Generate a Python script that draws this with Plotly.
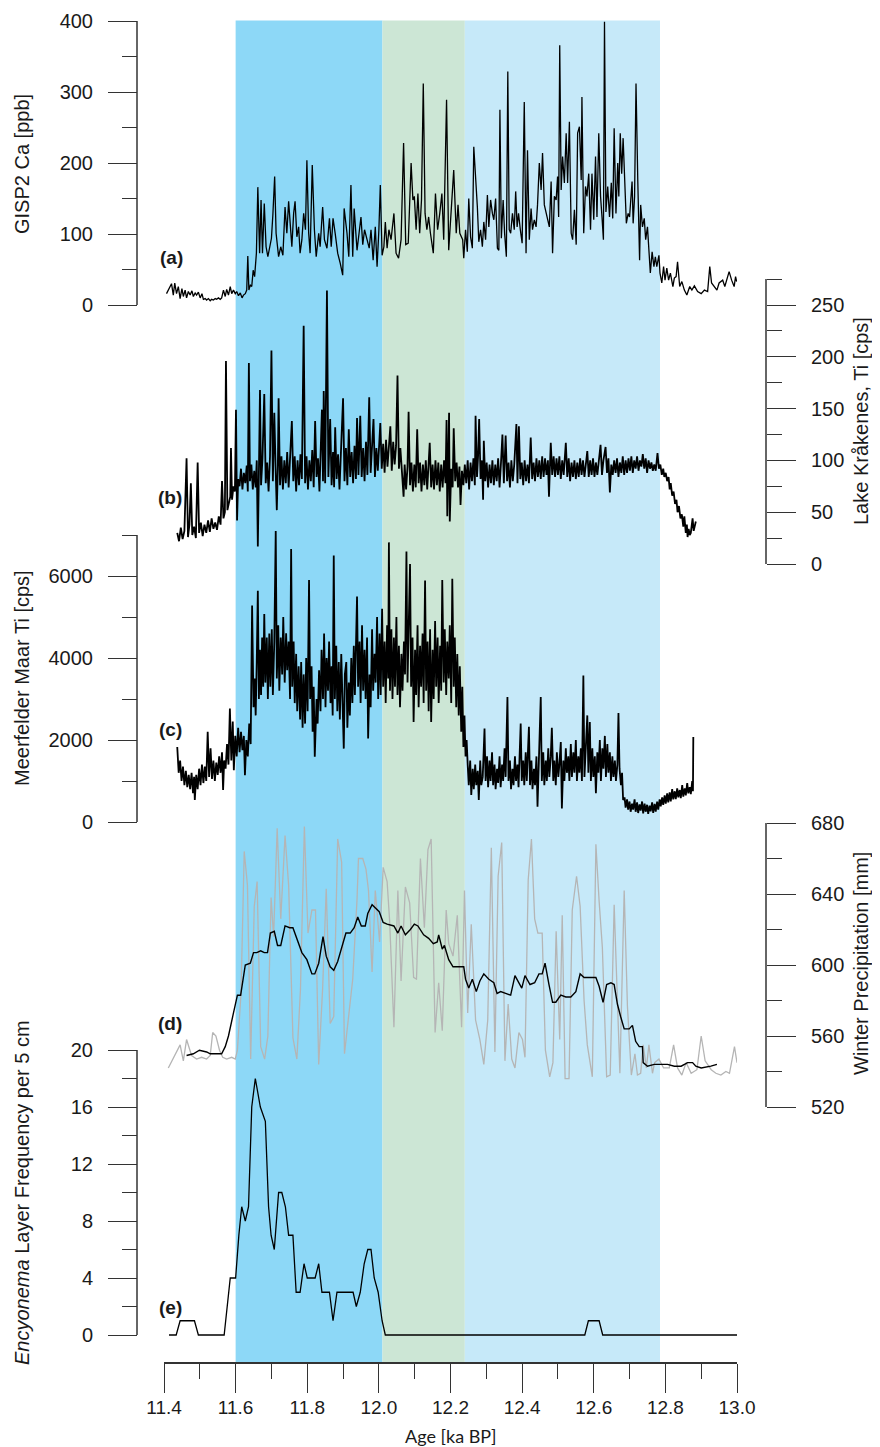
import plotly.graph_objects as go

# ---------------- DATA ----------------
AGE_TICKS = [11.4, 11.6, 11.8, 12.0, 12.2, 12.4, 12.6, 12.8, 13.0]
AGE_TICK_LABELS = ["11.4", "11.6", "11.8", "12.0", "12.2", "12.4", "12.6", "12.8", "13.0"]
AGE_MINOR = [11.5, 11.7, 11.9, 12.1, 12.3, 12.5, 12.7, 12.9]

# shaded intervals (ka BP) and their colours
ZONE_START = [11.6, 12.01, 12.24]
ZONE_END = [12.01, 12.24, 12.785]
ZONE_COLOR = ["#8dd8f7", "#cce6d5", "#c6e9f9"]

# (a) GISP2 Ca [ppb]  (age, value)
gisp2_ca = [
(11.407,16),(11.412,21),(11.421,30),(11.426,14),(11.430,31),(11.435,16),(11.440,26),(11.445,9),(11.450,23),(11.454,12),
(11.459,21),(11.463,10),(11.468,19),(11.473,14),(11.478,20),(11.482,12),(11.487,17),(11.491,14),(11.496,18),(11.501,10),
(11.506,16),(11.510,8),(11.515,9),(11.519,7),(11.524,9),(11.529,6),(11.533,8),(11.538,7),(11.543,9),(11.547,8),
(11.552,10),(11.557,8),(11.561,10),(11.566,21),(11.571,12),(11.575,22),(11.580,14),(11.585,26),(11.589,16),(11.594,21),
(11.599,16),(11.603,19),(11.608,13),(11.613,17),(11.618,10),(11.622,14),(11.627,16),(11.631,21),(11.634,69),(11.637,21),
(11.641,28),(11.645,26),(11.649,49),(11.653,40),(11.658,73),(11.662,166),(11.667,73),(11.671,148),(11.675,73),(11.680,143),
(11.685,82),(11.690,68),(11.697,89),(11.700,94),(11.704,127),(11.709,181),(11.713,101),(11.717,82),(11.720,68),(11.726,82),
(11.732,70),(11.738,138),(11.743,101),(11.748,146),(11.752,110),(11.757,82),(11.762,129),(11.766,146),(11.771,96),(11.776,110),
(11.780,73),(11.785,92),(11.790,129),(11.795,106),(11.799,204),(11.804,101),(11.808,73),(11.814,197),(11.820,106),(11.825,68),
(11.832,101),(11.836,82),(11.843,138),(11.848,92),(11.855,80),(11.862,122),(11.867,82),(11.872,122),(11.878,101),(11.885,73),
(11.892,59),(11.899,42),(11.903,136),(11.911,101),(11.916,68),(11.922,169),(11.927,68),(11.931,136),(11.939,77),(11.945,99),
(11.950,124),(11.955,85),(11.960,106),(11.967,92),(11.973,80),(11.978,106),(11.984,63),(11.990,110),(11.995,54),(12.000,106),
(12.004,169),(12.009,70),(12.014,82),(12.018,117),(12.023,80),(12.028,106),(12.034,92),(12.042,129),(12.048,73),(12.055,66),
(12.062,92),(12.069,228),(12.075,85),(12.082,87),(12.090,200),(12.095,148),(12.099,153),(12.104,106),(12.109,157),(12.114,101),
(12.119,148),(12.124,312),(12.129,129),(12.134,106),(12.139,124),(12.144,101),(12.152,73),(12.158,157),(12.164,106),(12.170,129),
(12.176,157),(12.181,92),(12.189,289),(12.195,77),(12.202,138),(12.209,190),(12.216,101),(12.221,141),(12.226,101),(12.234,92),
(12.237,66),(12.242,106),(12.247,75),(12.251,150),(12.256,96),(12.261,80),(12.265,223),(12.270,185),(12.275,138),(12.279,89),
(12.284,106),(12.289,82),(12.293,117),(12.298,92),(12.303,155),(12.307,110),(12.312,148),(12.317,129),(12.321,120),(12.326,150),
(12.331,80),(12.335,77),(12.338,275),(12.342,94),(12.347,148),(12.351,101),(12.356,68),(12.360,329),(12.364,106),(12.368,101),
(12.373,129),(12.378,106),(12.382,160),(12.386,110),(12.390,129),(12.395,106),(12.400,87),(12.406,286),(12.411,73),(12.415,218),
(12.420,92),(12.425,136),(12.429,106),(12.434,120),(12.439,110),(12.443,141),(12.448,200),(12.453,162),(12.457,214),(12.462,141),
(12.467,129),(12.471,124),(12.476,110),(12.481,174),(12.485,73),(12.490,153),(12.495,148),(12.499,181),(12.502,124),(12.505,366),
(12.509,162),(12.513,209),(12.518,172),(12.523,242),(12.527,172),(12.532,258),(12.537,101),(12.541,92),(12.546,134),(12.551,85),
(12.555,242),(12.560,251),(12.565,176),(12.567,293),(12.572,101),(12.577,167),(12.581,153),(12.586,185),(12.591,106),(12.595,185),
(12.600,120),(12.605,209),(12.609,124),(12.614,242),(12.619,153),(12.623,124),(12.627,92),(12.630,399),(12.634,131),(12.639,167),
(12.644,124),(12.649,172),(12.653,122),(12.657,249),(12.662,129),(12.667,200),(12.670,153),(12.674,242),(12.678,185),(12.682,235),
(12.687,157),(12.691,115),(12.696,129),(12.700,124),(12.707,174),(12.710,115),(12.714,153),(12.718,312),(12.723,174),(12.728,63),
(12.731,141),(12.736,110),(12.741,122),(12.745,92),(12.750,110),(12.754,73),(12.758,45),(12.763,75),(12.768,54),(12.772,68),
(12.776,54),(12.782,70),(12.785,45),(12.790,31),(12.795,54),(12.799,35),(12.804,52),(12.809,35),(12.814,45),(12.821,26),
(12.825,38),(12.830,40),(12.834,61),(12.840,26),(12.846,33),(12.853,21),(12.860,14),(12.868,26),(12.874,21),(12.881,27),
(12.890,19),(12.900,16),(12.909,21),(12.918,19),(12.924,54),(12.929,31),(12.936,26),(12.944,21),(12.950,31),(12.960,35),
(12.966,26),(12.972,38),(12.978,47),(12.985,35),(12.992,26),(12.996,40),(12.999,33),
]

# (b) Lake Kråkenes Ti [cps]  (age, value)
krakenes_ti = [
(11.437,30),(11.442,22),(11.447,35),(11.452,24),(11.457,32),(11.463,102),(11.467,26),(11.471,38),(11.475,78),(11.479,28),
(11.484,36),(11.489,25),(11.494,98),(11.498,30),(11.503,40),(11.508,27),(11.513,38),(11.518,30),(11.523,42),(11.528,31),
(11.533,44),(11.538,34),(11.543,40),(11.548,33),(11.553,46),(11.558,38),(11.562,80),(11.566,44),(11.570,50),(11.573,196),
(11.577,52),(11.581,58),(11.585,65),(11.587,112),(11.590,62),(11.594,75),(11.598,70),(11.601,149),(11.604,42),(11.607,82),
(11.611,75),(11.615,92),(11.619,72),(11.623,88),(11.627,78),(11.631,95),(11.634,70),(11.637,194),(11.640,80),(11.644,96),
(11.648,72),(11.652,90),(11.656,74),(11.659,100),(11.662,17),(11.665,88),(11.668,168),(11.671,76),(11.675,102),(11.680,164),
(11.684,78),(11.688,98),(11.692,70),(11.696,104),(11.700,206),(11.704,80),(11.708,146),(11.712,88),(11.715,52),(11.718,95),
(11.720,160),(11.724,76),(11.728,104),(11.732,72),(11.736,100),(11.740,78),(11.744,108),(11.748,74),(11.752,98),(11.757,138),
(11.761,80),(11.765,104),(11.769,70),(11.773,100),(11.777,76),(11.781,106),(11.785,82),(11.790,230),(11.794,78),(11.798,104),
(11.802,72),(11.806,100),(11.810,80),(11.814,110),(11.818,74),(11.822,138),(11.826,84),(11.830,102),(11.834,70),(11.838,106),
(11.841,149),(11.844,80),(11.846,167),(11.850,78),(11.855,264),(11.859,84),(11.864,140),(11.868,76),(11.872,108),(11.875,74),
(11.878,132),(11.882,82),(11.886,106),(11.890,72),(11.894,110),(11.900,160),(11.904,80),(11.908,112),(11.912,76),(11.916,130),
(11.920,84),(11.924,108),(11.928,78),(11.932,114),(11.936,82),(11.939,141),(11.943,86),(11.948,143),(11.952,84),(11.956,112),
(11.960,80),(11.964,118),(11.968,86),(11.973,161),(11.977,88),(11.981,116),(11.985,140),(11.989,84),(11.993,112),(11.997,90),
(12.001,118),(12.004,136),(12.008,92),(12.012,116),(12.016,88),(12.020,120),(12.024,94),(12.028,112),(12.032,133),(12.036,90),
(12.040,118),(12.044,96),(12.048,114),(12.052,182),(12.056,92),(12.060,112),(12.064,90),(12.067,74),(12.069,65),(12.072,96),
(12.076,72),(12.080,94),(12.083,147),(12.087,76),(12.091,98),(12.095,70),(12.099,96),(12.103,74),(12.107,130),(12.111,78),
(12.115,98),(12.119,70),(12.123,96),(12.127,76),(12.131,100),(12.135,72),(12.139,98),(12.142,117),(12.146,74),(12.150,96),
(12.154,72),(12.158,100),(12.162,76),(12.166,98),(12.170,70),(12.174,96),(12.178,74),(12.182,100),(12.186,78),(12.189,139),
(12.191,46),(12.194,96),(12.196,146),(12.198,41),(12.202,92),(12.206,74),(12.209,131),(12.213,80),(12.217,98),(12.221,74),
(12.225,94),(12.228,57),(12.232,90),(12.236,76),(12.240,96),(12.244,78),(12.248,100),(12.252,72),(12.256,98),(12.260,80),
(12.264,102),(12.268,76),(12.270,143),(12.274,84),(12.277,104),(12.280,140),(12.284,82),(12.288,100),(12.291,62),(12.293,119),
(12.297,80),(12.301,98),(12.305,74),(12.309,96),(12.313,78),(12.317,100),(12.321,76),(12.325,96),(12.329,80),(12.333,102),
(12.337,74),(12.341,98),(12.345,125),(12.349,78),(12.354,124),(12.358,80),(12.362,98),(12.366,74),(12.370,100),(12.374,80),
(12.378,96),(12.384,135),(12.387,78),(12.391,133),(12.395,82),(12.399,98),(12.403,76),(12.407,100),(12.411,80),(12.415,96),
(12.419,78),(12.424,122),(12.428,82),(12.432,98),(12.436,80),(12.440,102),(12.444,84),(12.448,100),(12.452,82),(12.456,104),
(12.460,84),(12.464,102),(12.468,86),(12.472,100),(12.475,65),(12.478,98),(12.480,117),(12.484,86),(12.488,104),(12.492,84),
(12.496,102),(12.500,86),(12.504,104),(12.508,82),(12.512,100),(12.516,86),(12.522,117),(12.526,84),(12.530,102),(12.534,80),
(12.538,98),(12.542,84),(12.546,100),(12.550,82),(12.554,98),(12.558,84),(12.562,102),(12.566,86),(12.570,100),(12.574,84),
(12.578,98),(12.582,109),(12.586,84),(12.590,100),(12.594,86),(12.598,102),(12.602,84),(12.606,98),(12.610,86),(12.614,102),
(12.619,115),(12.623,86),(12.627,100),(12.633,113),(12.637,88),(12.641,102),(12.645,69),(12.649,96),(12.653,86),(12.657,100),
(12.661,88),(12.665,102),(12.669,84),(12.673,98),(12.677,88),(12.681,104),(12.685,86),(12.689,100),(12.693,88),(12.697,102),
(12.701,90),(12.705,104),(12.709,88),(12.713,100),(12.717,92),(12.721,104),(12.725,90),(12.729,100),(12.733,94),(12.737,106),
(12.741,92),(12.745,102),(12.749,88),(12.753,100),(12.757,92),(12.761,98),(12.765,90),(12.769,96),(12.773,90),(12.778,107),
(12.782,92),(12.786,96),(12.790,86),(12.794,92),(12.797,84),(12.801,88),(12.805,80),(12.809,84),(12.812,72),(12.815,78),
(12.819,66),(12.823,70),(12.827,58),(12.831,62),(12.834,50),(12.838,56),(12.842,44),(12.846,48),(12.850,36),(12.853,46),
(12.857,30),(12.860,38),(12.862,26),(12.865,34),(12.868,28),(12.871,30),(12.874,38),(12.876,44),(12.879,32),(12.882,36),
(12.885,41),
]

# (c) Meerfelder Maar Ti [cps]  (age, value)
meerfelder_ti = [
(11.437,1830),(11.441,1200),(11.445,1500),(11.449,1000),(11.453,1350),(11.457,900),(11.461,1250),(11.465,850),(11.469,1150),(11.473,800),
(11.477,1200),(11.481,700),(11.484,1100),(11.486,535),(11.490,1150),(11.494,800),(11.498,1300),(11.502,900),(11.506,1400),(11.510,950),
(11.514,1350),(11.518,1000),(11.522,2200),(11.526,1100),(11.530,1800),(11.534,1050),(11.538,1500),(11.542,1000),(11.546,1450),(11.550,1150),
(11.554,1600),(11.558,1200),(11.562,1700),(11.565,780),(11.568,1500),(11.572,1300),(11.576,1900),(11.580,1400),(11.584,2765),(11.588,1500),
(11.592,2450),(11.595,1265),(11.599,2100),(11.603,1600),(11.607,2300),(11.611,1700),(11.615,2200),(11.619,1750),(11.623,2100),(11.626,1143),
(11.630,2000),(11.634,1600),(11.638,2400),(11.642,1900),(11.646,5280),(11.650,2800),(11.653,3500),(11.656,2600),(11.659,3900),(11.662,5640),
(11.665,3000),(11.668,4200),(11.671,3100),(11.674,4500),(11.677,3300),(11.680,5075),(11.683,3400),(11.687,4500),(11.690,3000),(11.694,4600),
(11.697,3300),(11.701,4700),(11.704,3100),(11.708,4400),(11.712,7100),(11.715,3500),(11.719,4800),(11.722,3200),(11.726,4500),(11.730,3600),
(11.733,5000),(11.737,3400),(11.741,4600),(11.744,3700),(11.748,4400),(11.752,3000),(11.755,6660),(11.758,3300),(11.762,4400),(11.765,2900),
(11.769,4100),(11.772,2700),(11.776,3800),(11.780,2500),(11.783,3900),(11.787,2300),(11.790,3600),(11.794,2400),(11.797,4000),(11.801,2700),
(11.805,5900),(11.808,3000),(11.812,3800),(11.815,2200),(11.818,3300),(11.821,1590),(11.826,3000),(11.829,2400),(11.833,3700),(11.837,2700),
(11.840,4200),(11.844,3000),(11.847,4600),(11.851,2800),(11.854,4000),(11.858,3200),(11.861,4400),(11.865,2900),(11.868,3800),(11.871,2600),
(11.874,6500),(11.877,3000),(11.881,4300),(11.884,2700),(11.888,3900),(11.891,2500),(11.895,4100),(11.898,2800),(11.902,1790),(11.905,3600),
(11.909,3900),(11.912,2300),(11.916,3400),(11.919,2600),(11.923,4000),(11.926,2900),(11.930,4300),(11.933,3100),(11.936,4600),(11.939,5500),
(11.942,3300),(11.946,4400),(11.949,2900),(11.953,4800),(11.956,3200),(11.960,4200),(11.963,3000),(11.967,4500),(11.970,2035),(11.974,3600),
(11.977,2800),(11.981,4700),(11.984,3200),(11.988,4100),(11.991,3400),(11.995,5000),(11.998,3000),(12.002,4600),(12.005,3100),(12.009,5200),
(12.012,3300),(12.016,4400),(12.019,2900),(12.023,4800),(12.026,3500),(12.028,6820),(12.031,3200),(12.035,4700),(12.038,3000),(12.042,4500),
(12.045,3300),(12.049,5000),(12.052,3100),(12.056,4300),(12.059,2800),(12.063,4100),(12.066,3200),(12.070,4400),(12.073,3600),(12.077,6600),
(12.080,3400),(12.084,4700),(12.087,6290),(12.090,3300),(12.094,4500),(12.097,2440),(12.101,4200),(12.104,3100),(12.108,4800),(12.111,2800),
(12.115,4300),(12.118,3300),(12.122,4600),(12.125,2900),(12.129,5890),(12.132,3200),(12.136,4400),(12.139,2700),(12.143,4700),(12.146,2440),
(12.150,4200),(12.153,3000),(12.157,4900),(12.160,3300),(12.164,4500),(12.167,2900),(12.171,4300),(12.174,3200),(12.177,5900),(12.181,3400),
(12.184,4700),(12.188,3100),(12.191,4400),(12.195,3500),(12.198,4800),(12.202,2900),(12.205,5930),(12.209,3300),(12.212,4500),(12.216,2800),
(12.219,4100),(12.223,2600),(12.226,3800),(12.230,2200),(12.233,3300),(12.236,1830),(12.239,2600),(12.242,1600),(12.245,2000),(12.248,1400),
(12.251,900),(12.255,1500),(12.258,657),(12.262,1300),(12.265,800),(12.269,1400),(12.272,900),(12.276,1250),(12.279,535),(12.283,1500),
(12.286,900),(12.290,1100),(12.295,2280),(12.298,1000),(12.302,1600),(12.305,850),(12.309,1500),(12.312,1000),(12.316,1700),(12.319,900),
(12.323,1400),(12.326,800),(12.330,1300),(12.333,950),(12.337,1600),(12.340,850),(12.344,1400),(12.347,1000),(12.351,1800),(12.354,1100),
(12.359,3050),(12.362,1000),(12.366,1500),(12.369,800),(12.373,1300),(12.376,900),(12.380,1600),(12.383,1000),(12.387,1400),(12.390,850),
(12.396,2400),(12.399,1000),(12.403,1500),(12.406,900),(12.410,1700),(12.413,1000),(12.419,2320),(12.422,900),(12.426,1500),(12.429,800),
(12.433,1300),(12.436,900),(12.440,1600),(12.443,373),(12.447,1400),(12.452,3050),(12.455,1000),(12.459,1700),(12.462,900),(12.466,1500),
(12.469,1000),(12.473,1800),(12.476,1100),(12.480,1600),(12.483,2300),(12.487,1000),(12.490,1500),(12.494,900),(12.497,1700),(12.501,1100),
(12.504,1400),(12.508,1950),(12.511,330),(12.515,1500),(12.518,1000),(12.522,1800),(12.525,1200),(12.529,1600),(12.532,1000),(12.536,1900),
(12.539,1100),(12.543,1700),(12.546,1200),(12.550,2000),(12.553,1000),(12.557,1600),(12.560,1200),(12.564,1800),(12.567,1000),(12.571,3575),
(12.574,1100),(12.578,1700),(12.582,2600),(12.585,1200),(12.589,2440),(12.592,1000),(12.596,1800),(12.599,1100),(12.603,1600),(12.606,700),
(12.610,1700),(12.613,1200),(12.617,2000),(12.620,1000),(12.624,1800),(12.627,1300),(12.631,2100),(12.634,1100),(12.638,1900),(12.641,1200),
(12.645,1700),(12.648,1000),(12.652,1600),(12.655,1100),(12.659,1500),(12.662,1000),(12.666,1400),(12.669,2660),(12.672,1300),(12.676,900),
(12.679,1200),(12.682,535),(12.686,600),(12.689,350),(12.693,550),(12.696,300),(12.700,500),(12.703,250),(12.707,450),(12.710,300),
(12.714,550),(12.717,250),(12.721,480),(12.724,220),(12.728,430),(12.731,280),(12.735,500),(12.738,210),(12.742,450),(12.745,250),
(12.749,420),(12.752,200),(12.756,400),(12.759,260),(12.763,480),(12.766,220),(12.770,440),(12.773,250),(12.777,500),(12.780,300),
(12.784,550),(12.787,380),(12.791,600),(12.794,420),(12.798,650),(12.801,450),(12.805,700),(12.808,480),(12.812,720),(12.815,500),
(12.819,800),(12.822,550),(12.826,750),(12.829,560),(12.833,820),(12.836,600),(12.840,780),(12.843,580),(12.847,900),(12.850,620),
(12.854,820),(12.857,650),(12.861,950),(12.864,700),(12.868,850),(12.871,680),(12.875,1000),(12.877,750),(12.878,2075),
]

# (d) Winter precipitation [mm]: individual values (grey) and smoothed curve (black)
precip_raw = [
(11.412,542),(11.445,555),(11.454,546),(11.463,558),(11.477,549),(11.491,547),(11.505,548),(11.519,547),(11.529,549),(11.536,562),
(11.545,560),(11.555,552),(11.564,548),(11.575,547),(11.589,548),(11.599,547),(11.605,552),(11.615,584),(11.624,664),(11.633,645),
(11.642,547),(11.652,633),(11.660,647),(11.670,554),(11.681,547),(11.690,560),(11.699,638),(11.706,616),(11.716,677),(11.726,626),
(11.738,673),(11.748,645),(11.760,559),(11.771,547),(11.781,586),(11.792,678),(11.802,618),(11.813,631),(11.823,631),(11.832,544),
(11.843,587),(11.853,643),(11.864,567),(11.874,571),(11.885,671),(11.896,658),(11.904,550),(11.916,574),(11.927,592),(11.939,637),
(11.943,660),(11.955,660),(11.964,654),(11.971,642),(11.981,596),(11.990,642),(12.002,613),(12.012,655),(12.023,647),(12.030,625),
(12.042,565),(12.053,642),(12.062,591),(12.074,644),(12.086,635),(12.097,593),(12.105,592),(12.116,660),(12.127,621),(12.137,665),
(12.146,671),(12.157,562),(12.167,590),(12.177,563),(12.188,631),(12.195,612),(12.207,605),(12.219,628),(12.231,565),(12.239,642),
(12.248,573),(12.258,623),(12.270,569),(12.282,558),(12.293,544),(12.304,569),(12.314,666),(12.324,551),(12.333,650),(12.343,669),
(12.352,546),(12.361,578),(12.371,547),(12.380,542),(12.391,562),(12.401,558),(12.408,548),(12.417,648),(12.426,671),(12.435,626),
(12.444,618),(12.456,618),(12.465,552),(12.477,537),(12.486,545),(12.495,619),(12.505,558),(12.512,628),(12.520,536),(12.531,536),
(12.540,631),(12.552,650),(12.562,633),(12.573,580),(12.582,555),(12.596,537),(12.606,668),(12.615,636),(12.624,610),(12.636,537),
(12.646,538),(12.657,634),(12.668,574),(12.673,539),(12.685,642),(12.694,577),(12.705,538),(12.715,550),(12.722,538),(12.731,539),
(12.738,555),(12.747,542),(12.754,555),(12.764,539),(12.770,545),(12.782,547),(12.795,542),(12.811,542),(12.823,555),(12.834,542),
(12.846,538),(12.858,545),(12.872,539),(12.888,541),(12.900,560),(12.911,546),(12.928,541),(12.941,539),(12.955,538),(12.969,540),
(12.979,539),(12.993,554),(13.000,545),
]
precip_smooth = [
(11.463,549),(11.482,550),(11.499,552),(11.519,551),(11.529,550),(11.561,550),(11.571,554),(11.580,560),(11.594,573),(11.605,583),
(11.614,583),(11.627,600),(11.641,601),(11.650,607),(11.659,607),(11.670,608),(11.680,607),(11.689,607),(11.697,618),(11.708,619),
(11.717,611),(11.726,611),(11.738,622),(11.751,621),(11.760,621),(11.771,615),(11.785,607),(11.799,603),(11.813,595),(11.821,595),
(11.832,601),(11.844,616),(11.853,605),(11.864,599),(11.874,597),(11.885,602),(11.897,611),(11.908,618),(11.920,618),(11.931,621),
(11.941,627),(11.951,622),(11.962,622),(11.969,629),(11.981,634),(11.990,632),(12.001,630),(12.012,624),(12.023,623),(12.042,622),
(12.053,618),(12.062,622),(12.074,617),(12.088,620),(12.099,623),(12.109,622),(12.125,617),(12.139,615),(12.152,612),(12.163,613),
(12.167,617),(12.177,609),(12.183,611),(12.195,603),(12.207,599),(12.223,599),(12.237,599),(12.242,592),(12.251,587),(12.261,592),
(12.272,585),(12.282,591),(12.293,595),(12.307,592),(12.321,590),(12.330,584),(12.340,585),(12.354,584),(12.368,583),(12.380,594),
(12.391,590),(12.399,587),(12.408,594),(12.422,589),(12.435,590),(12.447,595),(12.456,595),(12.464,601),(12.475,589),(12.485,579),
(12.494,579),(12.508,583),(12.522,582),(12.536,582),(12.550,585),(12.562,595),(12.573,593),(12.606,593),(12.615,588),(12.626,579),
(12.636,589),(12.648,590),(12.657,589),(12.666,578),(12.675,571),(12.685,564),(12.699,564),(12.708,566),(12.717,557),(12.727,554),
(12.736,554),(12.738,545),(12.750,543),(12.769,544),(12.787,544),(12.806,544),(12.825,543),(12.844,543),(12.862,545),(12.876,545),
(12.885,543),(12.900,542),(12.927,543),(12.944,544),
]

# (e) Encyonema layer frequency per 5 cm
encyonema = [
(11.414,0),(11.434,0),(11.445,1),(11.485,1),(11.496,0),(11.568,0),(11.585,4),(11.600,4),(11.609,7),(11.617,9),
(11.627,8),(11.636,9),(11.645,16),(11.655,18),(11.669,16),(11.683,15),(11.692,9),(11.699,7),(11.708,6),(11.720,10),
(11.729,10),(11.739,9),(11.748,7),(11.760,7),(11.769,3),(11.780,3),(11.791,5),(11.800,4),(11.822,4),(11.832,5),
(11.841,3),(11.862,3),(11.872,1),(11.883,3),(11.928,3),(11.937,2),(11.948,3),(11.959,5),(11.969,6),(11.978,6),
(11.987,4),(11.998,3),(12.009,1),(12.018,0),(12.575,0),(12.585,1),(12.615,1),(12.625,0),(13.000,0),
]

# axis ticks of each panel
A_MAJOR, A_MINOR = [0, 100, 200, 300, 400], [50, 150, 250, 350]
B_MAJOR, B_MINOR = [0, 50, 100, 150, 200, 250], [25, 75, 125, 175, 225, 275]
C_MAJOR, C_MINOR = [0, 2000, 4000, 6000], [1000, 3000, 5000, 7000]
D_MAJOR, D_MINOR = [520, 560, 600, 640, 680], [540, 580, 620, 660]
E_MAJOR, E_MINOR = [0, 4, 8, 12, 16, 20], [2, 6, 10, 14, 18]

# ---------------- LAYOUT GEOMETRY ----------------
W, H = 880, 1447
OFF = 8                  # the page body margin shifts the figure by this much
PL, PR = 137, 766        # plot-area left / right (page px)
PT, PB = 10, 1363        # plot-area top / bottom (page px)
PW, PH = PR - PL, PB - PT

def fx(px):
    return (px - PL) / PW

def fy(py):
    return (PB - py) / PH

def dom(v0, p0, v1, p1, lo, hi):
    k = (p0 - p1) / (v1 - v0)
    return [fy(p0 + (v0 - lo) * k), fy(p1 - (hi - v1) * k)]

FONT = "Liberation Sans, Arial, sans-serif"
AXC = "#333333"
TXT = "#1a1a1a"
TF = dict(family=FONT, size=20, color=TXT)

def yax(domain, rng, side, major, minor):
    return dict(
        domain=domain, range=rng, anchor="free", position=0 if side == "left" else 1,
        side=side, showline=False, showgrid=False, zeroline=False,
        ticks="outside", ticklen=29, tickwidth=1.4, tickcolor=AXC,
        tickmode="array", tickvals=major, ticktext=[str(v) for v in major],
        tickfont=TF, ticklabelstandoff=11,
        minor=dict(tickmode="array", tickvals=minor, ticks="outside",
                   ticklen=15, tickwidth=1.4, tickcolor=AXC, showgrid=False),
        fixedrange=True,
    )

RANGES = {
    "y":  (-12, 412),
    "y2": (-5, 285),
    "y3": (-100, 7300),
    "y4": (515, 685),
    "y5": (-0.6, 20.6),
}

fig = go.Figure()

def add(series, yaxis, color="black", width=1.3):
    xs = [p[0] for p in series]
    ys = [p[1] for p in series]
    fig.add_trace(go.Scatter(x=xs, y=ys, mode="lines", xaxis="x", yaxis=yaxis,
                             line=dict(color=color, width=width), showlegend=False,
                             hoverinfo="skip"))

add(gisp2_ca, "y", width=1.3)
add(krakenes_ti, "y2", width=1.8)
add(meerfelder_ti, "y3", width=1.8)
add(precip_raw, "y4", color="#b5b5b5", width=1.3)
add(precip_smooth, "y4", width=1.4)
add(encyonema, "y5", width=1.3)

shapes = []
for x0, x1, c in zip(ZONE_START, ZONE_END, ZONE_COLOR):
    shapes.append(dict(type="rect", xref="x", yref="paper", x0=x0, x1=x1,
                       y0=0, y1=fy(20.5), fillcolor=c, line=dict(width=0), layer="below"))
# axis spines, spanning exactly the tick range of each panel
for yref, side, lo, hi in [("y", 0, 0, 400), ("y2", 1, 0, 275), ("y3", 0, 0, 7000),
                           ("y4", 1, 520, 680), ("y5", 0, 0, 20)]:
    shapes.append(dict(type="line", xref="paper", yref=yref, x0=side, x1=side,
                       y0=lo, y1=hi, line=dict(color=AXC, width=1.5), layer="above"))

annotations = []
def ann(text, xpx, ypx, size=20, angle=0, bold=False, family=FONT):
    annotations.append(dict(text=text, xref="paper", yref="paper", x=fx(xpx), y=fy(ypx),
                            xanchor="center", yanchor="middle", showarrow=False,
                            textangle=angle,
                            font=dict(family=family, size=size, color=TXT,
                                      weight="bold" if bold else "normal")))

ann("GISP2 Ca [ppb]", 22, 164, angle=-90)
ann("Lake Kråkenes, Ti [cps]", 861, 421, angle=-90)
ann("Meerfelder Maar Ti [cps]", 22, 678, angle=-90)
ann("Winter Precipitation [mm]", 861, 964, angle=-90)
ann("<i>Encyonema</i> Layer Frequency per 5 cm", 22, 1193, angle=-90)
ann("(a)", 171, 257, size=19, bold=True)
ann("(b)", 170, 497, size=19, bold=True)
ann("(c)", 170, 729, size=19, bold=True)
ann("(d)", 170, 1023, size=19, bold=True)
ann("(e)", 170, 1307, size=19, bold=True)
ann("Age [ka BP]", 451, 1436, size=18, family="Lato, Open Sans, sans-serif")

fig.update_layout(
    width=W, height=H,
    margin=dict(l=PL - OFF, r=W - PR + OFF, t=PT - OFF, b=H - PB + OFF, autoexpand=False),
    paper_bgcolor="white", plot_bgcolor="rgba(0,0,0,0)",
    showlegend=False,
    xaxis=dict(domain=[fx(164), fx(737)], range=[11.4, 13.0], anchor="free", position=0,
               showline=True, linecolor=AXC, linewidth=1.5, showgrid=False, zeroline=False,
               ticks="outside", ticklen=29, tickwidth=1.4, tickcolor=AXC,
               tickmode="array", tickvals=AGE_TICKS, ticktext=AGE_TICK_LABELS,
               tickfont=dict(family=FONT, size=19, color=TXT), ticklabelstandoff=-2,
               minor=dict(tickmode="array", tickvals=AGE_MINOR, ticks="outside",
                          ticklen=15, tickwidth=1.4, tickcolor=AXC, showgrid=False),
               fixedrange=True),
    yaxis=yax(dom(0, 305, 400, 21, *RANGES["y"]), list(RANGES["y"]), "left", A_MAJOR, A_MINOR),
    yaxis2=yax(dom(0, 564, 250, 305, *RANGES["y2"]), list(RANGES["y2"]), "right", B_MAJOR, B_MINOR),
    yaxis3=yax(dom(0, 822, 6000, 576, *RANGES["y3"]), list(RANGES["y3"]), "left", C_MAJOR, C_MINOR),
    yaxis4=yax(dom(520, 1107, 680, 823, *RANGES["y4"]), list(RANGES["y4"]), "right", D_MAJOR, D_MINOR),
    yaxis5=yax(dom(0, 1335, 20, 1050, *RANGES["y5"]), list(RANGES["y5"]), "left", E_MAJOR, E_MINOR),
    shapes=shapes,
    annotations=annotations,
)

fig.write_html("out.html")
